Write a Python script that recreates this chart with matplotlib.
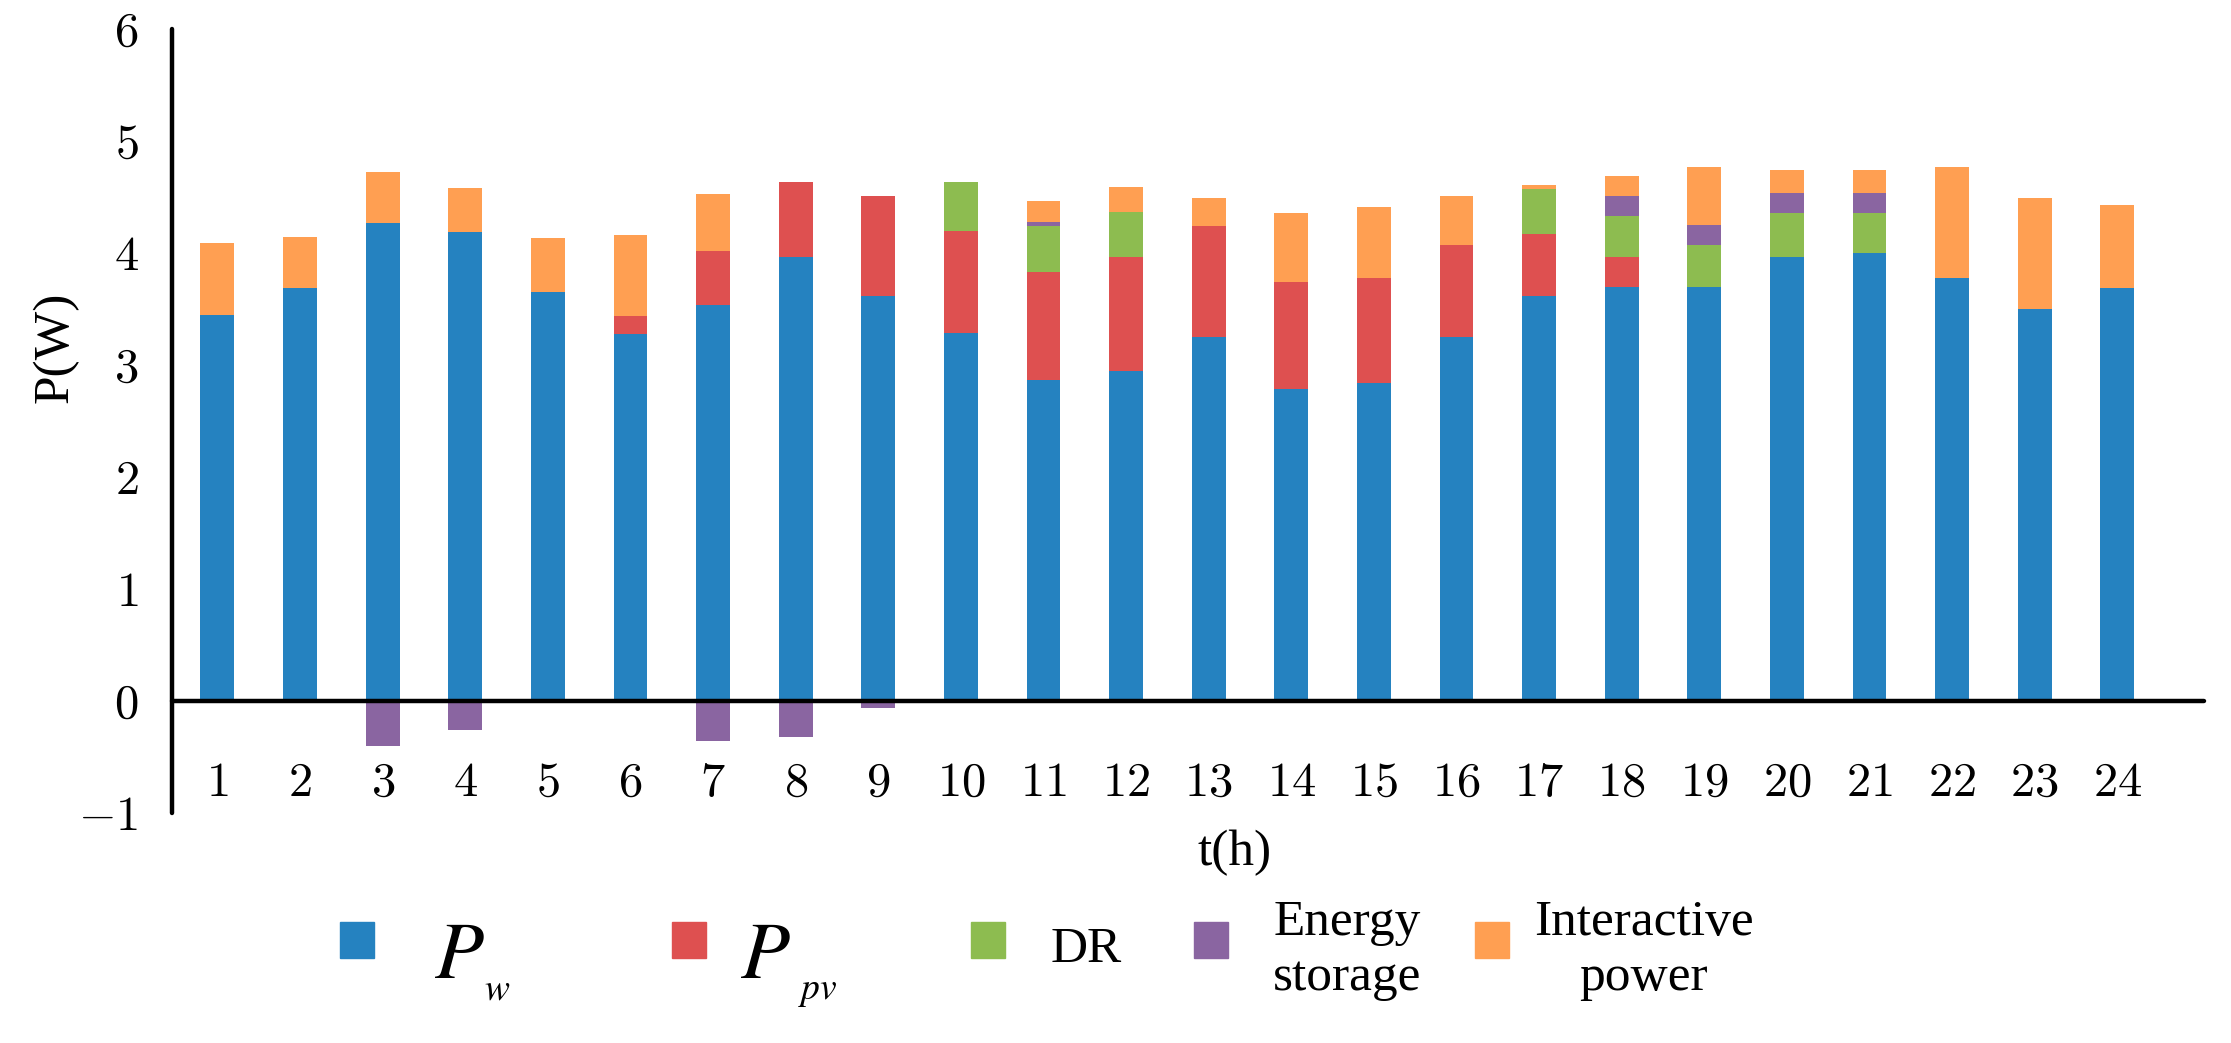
import numpy as np
import matplotlib
matplotlib.use('Agg')
import matplotlib.pyplot as plt
from matplotlib.patches import Rectangle

plt.rcParams['font.family'] = ['Liberation Serif', 'DejaVu Serif']
plt.rcParams['mathtext.fontset'] = 'cm'

# dati (potenza per ora)
hours = list(range(1, 25))
p_w = np.array([3.45, 3.69, 4.27, 4.19, 3.65, 3.28, 3.54, 3.96, 3.62, 3.29, 2.87, 2.95,
                3.25, 2.79, 2.84, 3.25, 3.62, 3.70, 3.70, 3.96, 4.00, 3.78, 3.50, 3.69])
p_pv = np.array([0, 0, 0, 0, 0, 0.16, 0.48, 0.67, 0.89, 0.91, 0.96, 1.01,
                 0.99, 0.95, 0.94, 0.82, 0.55, 0.26, 0, 0, 0, 0, 0, 0])
dr = np.array([0, 0, 0, 0, 0, 0, 0, 0, 0, 0.43, 0.41, 0.41,
               0, 0, 0, 0, 0.40, 0.37, 0.37, 0.40, 0.36, 0, 0, 0])
storage = np.array([0, 0, -0.40, -0.26, 0, 0, -0.36, -0.32, -0.065, 0, 0.04, 0,
                    0, 0, 0, 0, 0, 0.18, 0.18, 0.18, 0.18, 0, 0, 0])
interactive = np.array([0.64, 0.45, 0.45, 0.39, 0.48, 0.72, 0.51, 0, 0, 0, 0.18, 0.22,
                        0.25, 0.62, 0.63, 0.44, 0.04, 0.18, 0.52, 0.20, 0.20, 0.99, 0.99, 0.74])

labels = ['DR', 'Energy\nstorage', 'Interactive\npower']
subs = ['w', 'pv']
colors = ['#2582c0', '#de5050', '#8dbc50', '#8a65a1', '#ff9f52']

W, H = 2231, 1043
fig = plt.figure(figsize=(W / 100, H / 100), dpi=100)
ax = fig.add_axes([172 / W, 1 - 813 / H, (2204 - 172) / W, (813 - 29) / H])

w = 0.41
b2 = p_w + p_pv
b3 = b2 + dr
b4 = b3 + np.clip(storage, 0, None)
ax.bar(hours, p_w, w, color=colors[0], linewidth=0)
ax.bar(hours, p_pv, w, bottom=p_w, color=colors[1], linewidth=0)
ax.bar(hours, dr, w, bottom=b2, color=colors[2], linewidth=0)
ax.bar(hours, storage, w, bottom=np.where(storage > 0, b3, 0), color=colors[3], linewidth=0)
ax.bar(hours, interactive, w, bottom=b4, color=colors[4], linewidth=0)

ax.set_xlim(0.45, 25.05)
ax.set_ylim(-1, 6)
ax.spines['top'].set_visible(False)
ax.spines['right'].set_visible(False)
ax.spines['bottom'].set_position(('data', 0))
for s in ['left', 'bottom']:
    ax.spines[s].set_linewidth(3.2)
    ax.spines[s].set_capstyle('round')

ax.set_xticks(hours)
ax.set_xticklabels(['$%d$' % h for h in hours])
yt = list(range(-1, 7))
ax.set_yticks(yt)
ax.set_yticklabels(['$%d$' % v for v in yt])
ax.tick_params(axis='x', length=0, pad=44, labelsize=35)
ax.tick_params(axis='y', length=0, pad=24, labelsize=35)

fig.text(55 / W, 1 - 347 / H, 'P(W)', rotation=90, ha='center', va='center', fontsize=37)
fig.text(1235 / W, 1 - 853 / H, 't(h)', ha='center', va='center', fontsize=37)

# legenda disegnata a mano
patch_x = [340, 672, 971, 1194, 1475]
text_x = [434, 740, 1051, 1273, 1534]
sub_x = [484, 798]
for i in range(5):
    fig.patches.append(Rectangle((patch_x[i] / W, 1 - 958 / H), 34 / W, 36 / H,
                                 transform=fig.transFigure, color=colors[i]))
    if i < 2:
        fig.text(text_x[i] / W, 1 - 978 / H, r'$P$', ha='left', va='baseline',
                 fontsize=58, math_fontfamily='stix')
        fig.text(sub_x[i] / W, 1 - 999 / H, r'$%s$' % subs[i], ha='left', va='baseline',
                 fontsize=27, math_fontfamily='stix')
    else:
        fig.text(text_x[i] / W, 1 - 950 / H, labels[i - 2], ha='left', va='center',
                 fontsize=37, multialignment='center', linespacing=1.25)

fig.savefig('out.png', dpi=100)
